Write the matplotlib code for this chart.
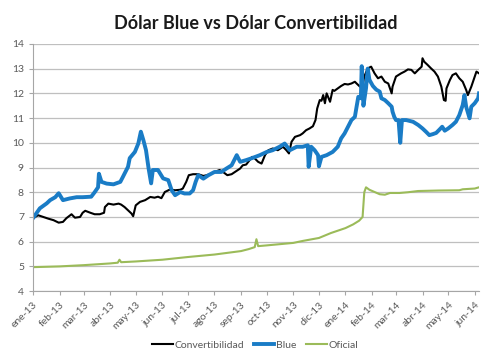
import numpy as np
import pandas as pd
import matplotlib
matplotlib.use('Agg')
import matplotlib.pyplot as plt

plt.rcParams['font.family'] = ['Lato', 'DejaVu Sans']

# valores
conv_fechas = ["2013-01-01", "2013-01-07", "2013-01-13", "2013-01-19", "2013-01-25", "2013-01-31",
               "2013-02-05", "2013-02-09", "2013-02-15", "2013-02-19", "2013-02-25", "2013-02-28",
               "2013-03-03", "2013-03-09", "2013-03-14", "2013-03-20", "2013-03-25", "2013-03-26",
               "2013-03-30", "2013-04-05", "2013-04-11", "2013-04-14", "2013-04-18", "2013-04-22",
               "2013-04-26", "2013-04-28", "2013-05-01", "2013-05-06", "2013-05-12", "2013-05-18",
               "2013-05-23", "2013-05-27", "2013-05-31", "2013-06-04", "2013-06-10", "2013-06-16",
               "2013-06-22", "2013-06-25", "2013-06-29", "2013-07-02", "2013-07-07", "2013-07-13",
               "2013-07-19", "2013-07-23", "2013-07-29", "2013-08-01", "2013-08-07", "2013-08-11",
               "2013-08-16", "2013-08-21", "2013-08-25", "2013-08-31", "2013-09-03", "2013-09-07",
               "2013-09-11", "2013-09-14", "2013-09-17", "2013-09-21", "2013-09-25", "2013-09-29",
               "2013-10-03", "2013-10-08", "2013-10-14", "2013-10-20", "2013-10-24", "2013-10-27",
               "2013-10-30", "2013-11-03", "2013-11-09", "2013-11-12", "2013-11-16", "2013-11-20",
               "2013-11-24", "2013-11-27", "2013-11-29", "2013-12-02", "2013-12-04", "2013-12-06",
               "2013-12-08", "2013-12-10", "2013-12-14", "2013-12-17", "2013-12-19", "2013-12-23",
               "2013-12-27", "2013-12-31", "2014-01-04", "2014-01-08", "2014-01-12", "2014-01-14",
               "2014-01-18", "2014-01-21", "2014-01-23", "2014-01-27", "2014-01-31", "2014-02-04",
               "2014-02-08", "2014-02-12", "2014-02-16", "2014-02-20", "2014-02-24", "2014-02-25",
               "2014-03-01", "2014-03-07", "2014-03-11", "2014-03-15", "2014-03-19", "2014-03-23",
               "2014-03-27", "2014-03-31", "2014-04-01", "2014-04-03", "2014-04-07", "2014-04-11",
               "2014-04-15", "2014-04-19", "2014-04-23", "2014-04-26", "2014-04-28", "2014-04-29",
               "2014-05-03", "2014-05-06", "2014-05-10", "2014-05-14", "2014-05-18", "2014-05-22",
               "2014-05-24", "2014-05-28", "2014-06-01", "2014-06-03", "2014-06-06"]
conv_valores = [6.95, 7.07, 7.0, 6.93, 6.87, 6.77,
                6.8, 6.95, 7.11, 6.97, 7.0, 7.17,
                7.25, 7.17, 7.11, 7.11, 7.17, 7.4,
                7.54, 7.5, 7.54, 7.5, 7.4, 7.27,
                7.14, 7.03, 7.47, 7.61, 7.68, 7.81,
                7.78, 7.82, 7.76, 8.01, 8.11, 8.08,
                8.1, 8.15, 8.42, 8.69, 8.73, 8.73,
                8.66, 8.69, 8.76, 8.82, 8.9, 8.82,
                8.69, 8.73, 8.82, 8.96, 9.09, 9.12,
                9.3, 9.43, 9.37, 9.23, 9.16, 9.5,
                9.7, 9.77, 9.7, 9.84, 9.7, 9.57,
                10.04, 10.24, 10.31, 10.38, 10.51, 10.58,
                10.67, 10.92, 11.39, 11.73, 11.7, 11.93,
                11.6, 12.0, 11.66, 12.14, 12.1, 12.2,
                12.3, 12.38, 12.36, 12.4, 12.47, 12.4,
                12.27, 12.3, 12.68, 13.01, 13.08, 12.81,
                12.61, 12.68, 12.47, 12.4, 12.0, 12.27,
                12.68, 12.81, 12.88, 12.97, 12.95, 12.81,
                12.95, 13.08, 13.42, 13.28, 13.15, 13.01,
                12.88, 12.68, 12.27, 11.73, 11.7, 12.2,
                12.54, 12.74, 12.81, 12.61, 12.47, 12.14,
                11.93, 12.27, 12.68, 12.88, 12.81]

blue_fechas = ["2013-01-01", "2013-01-09", "2013-01-17", "2013-01-21", "2013-01-27", "2013-01-31",
               "2013-02-05", "2013-02-13", "2013-02-21", "2013-02-28", "2013-03-10", "2013-03-14",
               "2013-03-18", "2013-03-19", "2013-03-22", "2013-03-28", "2013-04-05", "2013-04-13",
               "2013-04-16", "2013-04-22", "2013-04-24", "2013-04-30", "2013-05-04", "2013-05-07",
               "2013-05-10", "2013-05-13", "2013-05-16", "2013-05-19", "2013-05-21", "2013-05-27",
               "2013-06-02", "2013-06-08", "2013-06-12", "2013-06-16", "2013-06-22", "2013-06-27",
               "2013-07-03", "2013-07-07", "2013-07-10", "2013-07-13", "2013-07-19", "2013-07-25",
               "2013-08-01", "2013-08-09", "2013-08-15", "2013-08-21", "2013-08-27", "2013-08-31",
               "2013-09-07", "2013-09-13", "2013-09-23", "2013-10-01", "2013-10-08", "2013-10-16",
               "2013-10-22", "2013-10-28", "2013-11-05", "2013-11-12", "2013-11-18", "2013-11-19",
               "2013-11-22", "2013-11-26", "2013-11-30", "2013-12-01", "2013-12-04", "2013-12-10",
               "2013-12-17", "2013-12-23", "2013-12-27", "2013-12-31", "2014-01-04", "2014-01-08",
               "2014-01-12", "2014-01-14", "2014-01-16", "2014-01-19", "2014-01-20", "2014-01-22",
               "2014-01-25", "2014-01-27", "2014-01-29", "2014-02-02", "2014-02-06", "2014-02-10",
               "2014-02-12", "2014-02-16", "2014-02-20", "2014-02-24", "2014-02-25", "2014-02-27",
               "2014-03-01", "2014-03-04", "2014-03-06", "2014-03-08", "2014-03-13", "2014-03-21",
               "2014-03-27", "2014-04-01", "2014-04-05", "2014-04-09", "2014-04-13", "2014-04-17",
               "2014-04-21", "2014-04-24", "2014-04-27", "2014-05-01", "2014-05-06", "2014-05-10",
               "2014-05-14", "2014-05-18", "2014-05-20", "2014-05-22", "2014-05-26", "2014-05-28",
               "2014-06-01", "2014-06-05", "2014-06-06"]
blue_valores = [6.95, 7.35, 7.55, 7.68, 7.8, 7.96,
                7.68, 7.75, 7.8, 7.8, 7.82, 8.0,
                8.2, 8.75, 8.42, 8.35, 8.32, 8.42,
                8.62, 9.03, 9.38, 9.63, 9.97, 10.45,
                10.1, 9.7, 8.97, 8.36, 8.9, 8.9,
                8.56, 8.49, 8.08, 7.88, 8.01, 7.95,
                7.95, 8.08, 8.42, 8.69, 8.55, 8.69,
                8.82, 8.82, 8.96, 9.09, 9.5, 9.23,
                9.3, 9.37, 9.5, 9.63, 9.7, 9.84,
                9.97, 9.7, 9.84, 9.84, 9.9, 9.03,
                9.84, 9.7, 9.5, 9.05, 9.43, 9.5,
                9.63, 9.84, 10.18, 10.38, 10.65, 10.92,
                11.05, 11.46, 11.86, 11.8, 13.1, 11.5,
                12.2, 13.0, 12.55, 12.3, 12.15, 12.07,
                11.8, 11.73, 11.6, 11.46, 11.26, 11.05,
                10.92, 10.92, 10.0, 10.92, 10.92, 10.85,
                10.72, 10.58, 10.45, 10.31, 10.35, 10.4,
                10.54, 10.65, 10.49, 10.58, 10.72, 10.85,
                11.12, 11.53, 11.93, 11.46, 10.99, 11.46,
                11.6, 11.8, 12.0]

ofi_fechas = ["2013-01-01", "2013-02-01", "2013-03-01", "2013-04-01", "2013-04-10", "2013-04-12",
              "2013-04-14", "2013-05-01", "2013-06-01", "2013-07-01", "2013-08-01", "2013-09-01",
              "2013-09-10", "2013-09-17", "2013-09-19", "2013-09-21", "2013-10-01", "2013-11-01",
              "2013-11-12", "2013-12-01", "2013-12-15", "2014-01-01", "2014-01-10", "2014-01-17",
              "2014-01-21", "2014-01-23", "2014-01-25", "2014-01-29", "2014-02-04", "2014-02-10",
              "2014-02-16", "2014-02-22", "2014-03-05", "2014-03-15", "2014-03-27", "2014-04-20",
              "2014-05-14", "2014-05-18", "2014-06-01", "2014-06-06"]
ofi_valores = [4.97, 5.0, 5.05, 5.12, 5.15, 5.27,
               5.17, 5.2, 5.27, 5.38, 5.48, 5.62,
               5.7, 5.78, 6.1, 5.82, 5.85, 5.95,
               6.03, 6.15, 6.35, 6.55, 6.7, 6.85,
               7.0, 8.0, 8.2, 8.1, 8.01, 7.92,
               7.9, 7.97, 7.97, 8.0, 8.05, 8.07,
               8.08, 8.12, 8.15, 8.2]

meses = ["ene-13", "feb-13", "mar-13", "abr-13", "may-13", "jun-13", "jul-13", "ago-13", "sep-13",
         "oct-13", "nov-13", "dic-13", "ene-14", "feb-14", "mar-14", "abr-14", "may-14", "jun-14"]

gris = "#595959"

fig = plt.figure(figsize=(5, 3.63), dpi=100)
ax = fig.add_axes([0.066, 0.198, 0.892, 0.681])

ax.plot(pd.to_datetime(conv_fechas), conv_valores, color="black", lw=1.5, label="Convertibilidad")
ax.plot(pd.to_datetime(blue_fechas), blue_valores, color="#1a7cc6", lw=2.8, label="Blue")
ax.plot(pd.to_datetime(ofi_fechas), ofi_valores, color="#9bbb59", lw=1.5, label="Oficial")

ax.set_ylim(4, 14)
ax.set_yticks(range(4, 15))
ax.set_xlim(pd.Timestamp("2013-01-01"), pd.Timestamp("2014-06-06"))
ticks = pd.date_range("2013-01-01", periods=len(meses), freq="MS")
ax.set_xticks(ticks)
ax.set_xticklabels(meses, rotation=45, ha="right", rotation_mode="anchor")

ax.grid(axis="y", color="#bfbfbf", lw=0.9)
ax.set_axisbelow(True)
for s in ["top", "right"]:
    ax.spines[s].set_visible(False)
for s in ["left", "bottom"]:
    ax.spines[s].set_color("#a6a6a6")
ax.tick_params(axis="both", colors="#a6a6a6", labelcolor=gris, labelsize=7.5, length=3)

ax.set_title(u"Dólar Blue vs Dólar Convertibilidad", fontsize=13, fontweight="bold", color="#1a1a1a", pad=11)

fig.legend(loc="lower center", bbox_to_anchor=(0.51, 0.01), ncol=3, frameon=False, fontsize=7.5,
           handlelength=2.0, handletextpad=0.15, columnspacing=0.9, labelcolor=gris)

plt.savefig("out.png")
